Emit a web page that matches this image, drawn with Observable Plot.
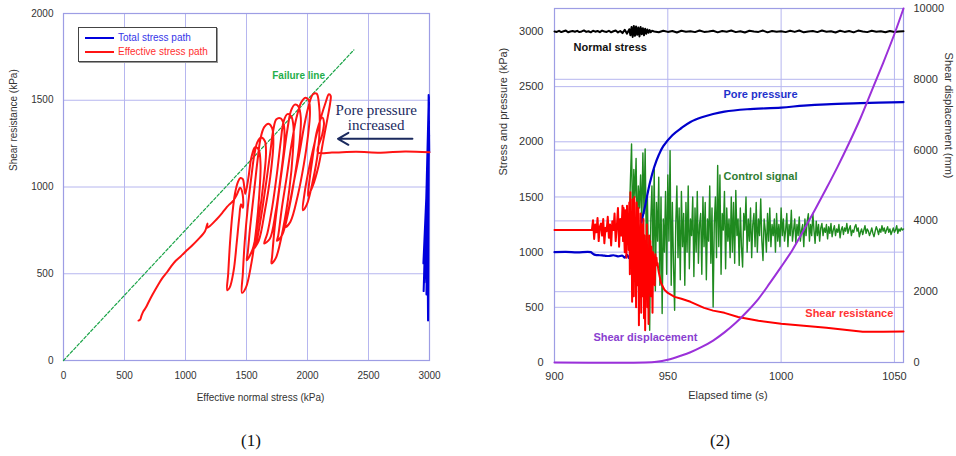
<!DOCTYPE html>
<html><head><meta charset="utf-8">
<script src="https://cdn.jsdelivr.net/npm/d3@7"></script>
<script src="https://cdn.jsdelivr.net/npm/@observablehq/plot@0.6"></script>
<style>
body{margin:0;background:#fff;width:956px;height:456px;position:relative;overflow:hidden;font-family:"Liberation Sans",Arial,sans-serif;}
.panel{position:absolute;top:0;height:420px;}
.panel svg{position:absolute;left:0;top:0;}
.cap{position:absolute;font-family:"Liberation Serif","Times New Roman",serif;font-size:17px;color:#111;transform:translate(-50%,-50%);}
.legend{position:absolute;left:78px;top:27px;width:137px;height:33px;border:1.5px solid #444;box-shadow:1px 1px 0 #999;background:#fff;font-size:10px;}
.legend .row{position:absolute;left:6px;height:12px;line-height:12px;white-space:nowrap;}
.legend .sw{display:inline-block;width:29px;height:2px;vertical-align:middle;margin-right:4px;}
</style></head><body>
<div id="p1" class="panel" style="left:0;width:450px"></div>
<div id="p2" class="panel" style="left:490px;width:466px"></div>
<div class="cap" style="left:251px;top:441px">(1)</div>
<div class="cap" style="left:720px;top:441px">(2)</div>
<script>
// ---------- Panel (1) data ----------
const p1XTicks = [0, 500, 1000, 1500, 2000, 2500, 3000];
const p1YTicks = [0, 500, 1000, 1500, 2000];
const failureX = [0, 2380];
const failureY = [0, 1790];
const totalStressPath = [[2998,1200],[2993,1530],[2986,1000],[2996,1490],[2980,780],[2992,1420],[2968,560],[2990,1350],[2952,400],[2984,1100],[2972,650],[2995,1520],[2988,230],[2983,760],[2958,450],[2992,1460],[2962,600],[2988,1280],[2975,380],[2996,1380],[2980,900],[2994,1500],[2970,700],[2990,1200],[2950,560],[2985,1050],[2976,480],[2997,1300],[2982,820],[2993,1200]];
const effectiveStressPath = [
 [3000,1200],[2800,1205],[2600,1198],[2400,1203],[2200,1199],[2085,1200],
 [2120,1300],[2135,1370],[2120,1400],[2080,1330],[2040,1160],[2010,1000],[2005,950],
 [2040,1000],[2090,1120],[2130,1270],[2165,1400],[2185,1480],[2190,1525],[2175,1535],[2150,1490],[2110,1400],[2060,1260],[2010,1100],[1975,960],[1962,866],
 [1995,900],[2045,1040],[2085,1200],[2100,1350],[2095,1470],[2075,1538],[2045,1535],[2010,1470],[1975,1360],[1930,1180],[1880,1000],[1840,850],[1820,770],
 [1860,800],[1920,950],[1970,1130],[2005,1300],[2020,1430],[2010,1500],[1985,1515],[1950,1490],[1910,1400],[1870,1250],[1830,1060],[1790,880],[1760,720],[1750,690],
 [1790,720],[1850,880],[1900,1080],[1935,1260],[1945,1400],[1925,1465],[1895,1475],[1865,1440],[1835,1330],[1800,1150],[1760,940],[1730,760],[1710,600],[1705,560],
 [1740,590],[1800,760],[1850,980],[1880,1200],[1885,1350],[1865,1410],[1835,1420],[1805,1380],[1780,1260],[1750,1080],[1710,880],[1670,730],[1645,675],
 [1690,700],[1740,860],[1780,1060],[1810,1250],[1805,1360],[1780,1395],[1745,1390],[1720,1330],[1695,1200],[1660,1020],[1620,830],[1580,680],[1555,640],
 [1600,690],[1650,860],[1695,1060],[1720,1250],[1710,1340],[1680,1365],[1645,1345],[1615,1280],[1590,1150],[1560,960],[1530,770],[1510,620],[1502,578],
 [1550,640],[1600,820],[1640,1030],[1660,1200],[1650,1265],[1620,1285],[1590,1260],[1565,1190],[1540,1060],[1510,880],[1485,680],[1470,500],[1463,390],
 [1495,420],[1540,560],[1580,760],[1605,960],[1615,1130],[1600,1215],[1570,1230],[1540,1170],[1515,1050],[1490,960],
 [1480,1010],[1470,1045],[1450,1052],[1430,1030],[1405,960],[1385,850],[1365,680],[1350,500],[1342,405],[1362,420],[1395,520],[1420,680],[1440,820],[1455,900],[1470,880],[1468,960],[1448,995],[1420,955],[1390,920],[1360,900],[1340,885],
 [1300,850],[1250,810],[1200,775],[1178,765],[1180,790],[1160,745],[1100,695],[1050,660],[1011,635],[960,600],[920,575],[880,540],[850,510],[810,475],[770,430],[730,380],[700,340],[675,305],[656,285],[640,260],[628,235],[615,230]
];
const poreArrow = [{x1: 2860, y1: 1278, x2: 2250, y2: 1278}];

// ---------- Panel (2) data ----------
const timeTicks = [900, 950, 1000, 1050];
const stressTicks = [0, 500, 1000, 1500, 2000, 2500, 3000];
const dispTicks = [0, 2000, 4000, 6000, 8000, 10000];
// normal stress (kPa)
const normalA = [3000,2996,3006,2994,3002,3008,2993,3000,3004,2997,3006,2994,3000,3009,2996,3002,2992,3006,2998,3004,2994,3008,3000,2996,3006,2992,3002,3009,2991,3004,2985,3015,2980]; // 900..932 step 1
const normalB = [3020,2965,3040,2950,3050,2960,3045,2970,3035,2955,3040,2975,3030,2965,3025,2980,3018,2988,3012,2993,3006]; // 933..943 step 0.5
const normalC = [3000,2993,3007,2996,3004,2991,3006,2998,3002,2994,3009,2996,3000,3006,2992,3004,2998,3008,2994,3002,2990,3006,3000,2996,3008,2992,3004,2998,3002,2994,3006,2996,3009,2992,3000,3004,2994,3008,2998,3002,2991,3006,2996,3004,2992,3008,3000,2994,3006,2998,3002,2993,3004,2996,3000,3002]; // 944..1054 step 2
// control signal (kPa), from 933 s every 0.5 s
const controlValues = [1300,1650,1980,1200,1750,1500,1850,1150,1600,1400,
 1700,1250,1900,1350,1935,1100,1500,800,292,1300,
 1600,900,1750,650,1450,1100,1680,700,1500,443,
 1300,1000,1550,800,1700,1100,1920,700,1450,900,
 473,1250,1600,950,1400,750,1550,1050,1350,700,
 1450,1000,1600,850,1300,1150,1500,780,1400,1000,
 1550,900,1250,1350,800,1500,1050,1450,750,1300,
 1100,1600,900,1400,503,1250,1500,950,1785,1050,
 1700,800,1350,1200,1550,850,1400,1100,1300,950,
 1500,1000,1450,900,1560,1150,1300,880,1400,1050,
 865,1350,1200,1500,1000,1300,1100,1400,950,1250,
 1350,1050,1450,1000,1300,1150,1483,1100,925,1300,
 1200,1000,1350,1100,1400,1050,1250,1150,1300,1000,
 1350,1100,1250,1050,1400,1150,1300,1100,1200,1350,
 1050,1250,1150,1380,1100,1200,1300,1080,1250,1150,
 1320,1100,1200,1250,1050,1300,1150,1280,1348,1100,
 1250,1150,1350,1200,1080,1280,1150,1250,1100,1220,
 1260,1150,1220,1180,1250,1120,1230,1170,1260,1140,
 1200,1240,1150,1210,1180,1250,1130,1200,1230,1160,
 1220,1190,1260,1170,1210,1240,1150,1200,1180,1230,
 1250,1190,1220,1140,1180,1210,1160,1200,1240,1170,
 1210,1190,1150,1180,1220,1170,1140,1190,1230,1200,
 1160,1210,1180,1240,1190,1220,1170,1200,1230,1180,
 1210,1160,1190,1220,1180,1200,1240,1170,1210,1190,
 1220,1200,1210];
const controlStart = 933, controlStep = 0.5;
// shear resistance (kPa)
const shearBefore = [[900,1200],[908,1201],[916,1200]];
const shearOscA = [1200,1290,1120,1250,1180,1310,1100,1230,1260,1150,1300,1080,1220,1190,1320,1130,1250,1060,1280,1200,1350,1100,1230,1400,1050,1300,1150,1420]; // 916.5..930 step 0.5
const shearOscB = [1100,1400,1150,1000,1380,1200,950,1420,1100,1300,1020,1450,
 800,1543,1000,1350,550,1480,1200,600,1500,900,1300,500,1450,1100,700,1400,338,1200,900,1350,450,1250,1000,600,1300,400,1150,292,1100,800,1250,500,1000,350,1150,700,
 1100,600,1050,900,450,1000,850,950,700,980,900,950,880,900,850,820]; // 930.25..946 step 0.25
const shearAfter = [[947,720],[948.5,660],[950,630],[953,595],[956,578],[960,550],[966,495],[970,470],[975,450],[981,412],[990,378],[1000,351],[1010,333],[1020,315],[1030,292],[1036,278],[1045,279],[1054,280]];
// pore pressure (kPa)
const porePressure = [[900,1000],[905,1002],[910,998],[916,1000],[917,985],[918,975],[920,972],[922,968],[924,965],[926,972],[928,962],[930,968],[931,950],[932,975],[933,945],[934,955],[935,940],[936,980],[937,1100],[938,1230],[939,1330],[940,1420],[942,1620],[944,1770],[946,1880],[948,1960],[952,2060],[956,2125],[960,2180],[965,2222],[970,2252],[975,2274],[985,2295],[1000,2310],[1010,2328],[1020,2340],[1035,2350],[1054,2360]];
// shear displacement (mm)
const shearDisplacement = [[900,0],[940,0],[945,20],[950,80],[955.6,190],[960,290],[965,440],[970,620],[975,850],[980,1120],[985,1440],[990,1800],[995,2240],[1000,2700],[1005,3180],[1010,3740],[1015,4320],[1020,4920],[1025,5540],[1030,6200],[1035,6900],[1040,7680],[1045,8460],[1050,9280],[1054,10000]];

// ---------- build tables ----------
const normalRows = [
  ...normalA.map((v,i)=>({t:900+i, v})),
  ...normalB.map((v,i)=>({t:933+i*0.5, v})),
  ...normalC.map((v,i)=>({t:944+i*2, v}))
];
const controlRows = controlValues.map((v,i)=>({t: controlStart + i*controlStep, v}));
const shearRows = [
  ...shearBefore.map(([t,v])=>({t,v})),
  ...shearOscA.map((v,i)=>({t:916.5+i*0.5, v})),
  ...shearOscB.map((v,i)=>({t:930.25+i*0.25, v})),
  ...shearAfter.map(([t,v])=>({t,v}))
];
const poreRows = porePressure.map(([t,v])=>({t,v}));
const dispRows = shearDisplacement.map(([t,v])=>({t,v}));

const FONT = "Liberation Sans, Arial, Helvetica, sans-serif";
const GRID = "#b6b6ef";
const FRAME = "#9d9de4";
const plain = d => String(d);

// ---------- Panel 1 ----------
const p1 = Plot.plot({
  width: 450, height: 420,
  marginLeft: 63, marginRight: 21, marginTop: 13, marginBottom: 60,
  style: {background: "transparent", fontFamily: FONT, fontSize: "10px", color: "#333"},
  x: {domain: [0, 3000], ticks: p1XTicks, tickFormat: plain, tickSize: 0, tickPadding: 11, label: null},
  y: {domain: [0, 2000], ticks: p1YTicks, tickFormat: plain, tickSize: 0, tickPadding: 10, label: null},
  marks: [
    Plot.ruleX(p1XTicks, {stroke: GRID, strokeWidth: 1}),
    Plot.ruleY(p1YTicks, {stroke: GRID, strokeWidth: 1}),
    Plot.frame({stroke: FRAME, strokeWidth: 1.2}),
    Plot.line(failureX.map((x,i)=>({x, y: failureY[i]})), {x: "x", y: "y", stroke: "#19a347", strokeWidth: 1.2, strokeDasharray: "3,2"}),
    Plot.line(totalStressPath, {x: d=>d[0], y: d=>d[1], stroke: "#0000dd", strokeWidth: 2}),
    Plot.line(effectiveStressPath, {x: d=>d[0], y: d=>d[1], stroke: "#ff1414", strokeWidth: 2, curve: "catmull-rom"}),
    Plot.text(["Failure line"], {x: 1711, y: 1639, text: d=>d, textAnchor: "start", fill: "#1fae4a", fontWeight: "bold", fontSize: 10}),
    Plot.text(["Pore pressure\nincreased"], {x: 2563, y: 1402, text: d=>d, fill: "#1b2a5e", fontSize: 15, fontFamily: "Liberation Serif, Times New Roman, serif", lineHeight: 1}),
    Plot.arrow(poreArrow, {x1: "x1", y1: "y1", x2: "x2", y2: "y2", stroke: "#1b2a5e", strokeWidth: 2, headLength: 9}),
    Plot.text(["Shear resistance (kPa)"], {frameAnchor: "left", dx: -50, dy: -16, rotate: -90, text: d=>d, fontSize: 10, fill: "#333"}),
    Plot.text(["Effective normal stress (kPa)"], {frameAnchor: "bottom", dx: 14, dy: 40, text: d=>d, fontSize: 10, fill: "#333"})
  ]
});
document.getElementById("p1").appendChild(p1);
const leg = document.createElement("div");
leg.className = "legend";
leg.innerHTML = '<div class="row" style="top:4px;color:#3535e8"><span class="sw" style="background:#0000dd"></span>Total stress path</div>' +
  '<div class="row" style="top:18px;color:#ff3030"><span class="sw" style="background:#ff1414"></span>Effective stress path</div>';
document.getElementById("p1").appendChild(leg);

// ---------- Panel 2 ----------
const dims2 = {width: 466, height: 420, marginLeft: 64, marginRight: 53, marginTop: 8, marginBottom: 58};
const timeDomain = [900, 1054];
const stressDomain = [0, 3208];
const dispDomain = [0, 10000];

const layerA = Plot.plot({
  ...dims2,
  style: {background: "transparent", fontFamily: FONT, fontSize: "11px", color: "#333"},
  x: {domain: timeDomain, axis: null},
  y: {domain: dispDomain, axis: "right", ticks: dispTicks, tickFormat: plain, tickSize: 0, tickPadding: 10, label: null},
  marks: [
    Plot.ruleY(dispTicks, {stroke: GRID, strokeWidth: 1}),
    Plot.text(["Shear displacement (mm)"], {frameAnchor: "right", dx: 45, dy: -7, rotate: 90, text: d=>d, fontSize: 11, fill: "#333"})
  ]
});
const layerB = Plot.plot({
  ...dims2,
  style: {background: "transparent", fontFamily: FONT, fontSize: "11px", color: "#333"},
  x: {domain: timeDomain, ticks: timeTicks, tickFormat: plain, tickSize: 0, tickPadding: 10, label: null},
  y: {domain: stressDomain, ticks: stressTicks, tickFormat: plain, tickSize: 0, tickPadding: 11, label: null},
  marks: [
    Plot.ruleX(timeTicks, {stroke: GRID, strokeWidth: 1}),
    Plot.ruleY(stressTicks, {stroke: GRID, strokeWidth: 1}),
    Plot.frame({stroke: FRAME, strokeWidth: 1.2}),
    Plot.line(controlRows, {x: "t", y: "v", stroke: "#1f8a1f", strokeWidth: 1.4}),
    Plot.line(poreRows, {x: "t", y: "v", stroke: "#0000cc", strokeWidth: 2.2, curve: "catmull-rom"}),
    Plot.line(shearRows, {x: "t", y: "v", stroke: "#ff0000", strokeWidth: 2}),
    Plot.line(normalRows, {x: "t", y: "v", stroke: "#000", strokeWidth: 2}),
    Plot.text(["Normal stress"], {x: 908.4, y: 2854, text: d=>d, textAnchor: "start", fontWeight: "bold", fontSize: 11, fill: "#111"}),
    Plot.text(["Pore pressure"], {x: 990.9, y: 2428, text: d=>d, fontWeight: "bold", fontSize: 11, fill: "#1f33cc"}),
    Plot.text(["Control signal"], {x: 990.9, y: 1685, text: d=>d, fontWeight: "bold", fontSize: 11, fill: "#2e7d32"}),
    Plot.text(["Shear resistance"], {x: 1030.1, y: 444, text: d=>d, fontWeight: "bold", fontSize: 11, fill: "#ff3333"}),
    Plot.text(["Shear displacement"], {x: 940.1, y: 227, text: d=>d, fontWeight: "bold", fontSize: 11, fill: "#8a3fd0"}),
    Plot.text(["Stress and pressure (kPa)"], {frameAnchor: "left", dx: -51, dy: -10, rotate: -90, text: d=>d, fontSize: 11, fill: "#333"}),
    Plot.text(["Elapsed time (s)"], {frameAnchor: "bottom", dx: -1, dy: 36, text: d=>d, fontSize: 11, fill: "#333"})
  ]
});
const layerC = Plot.plot({
  ...dims2,
  style: {background: "transparent"},
  x: {domain: timeDomain, axis: null},
  y: {domain: dispDomain, axis: null},
  marks: [
    Plot.line(dispRows, {x: "t", y: "v", stroke: "#9b30d9", strokeWidth: 2, curve: "catmull-rom"})
  ]
});
const p2 = document.getElementById("p2");
p2.appendChild(layerA); p2.appendChild(layerB); p2.appendChild(layerC);
</script>
</body></html>
